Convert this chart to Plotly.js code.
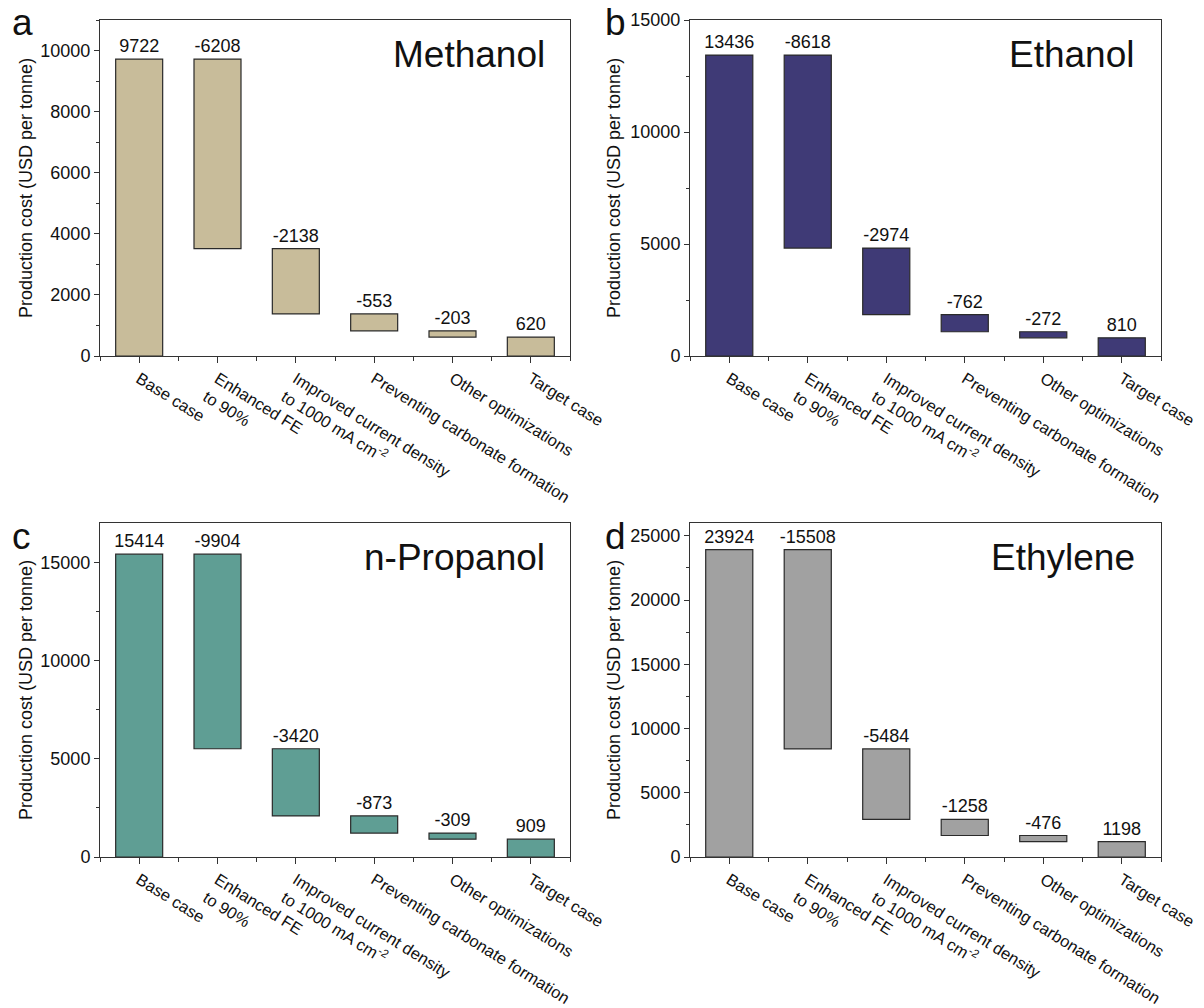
<!DOCTYPE html>
<html>
<head>
<meta charset="utf-8">
<script src="https://cdn.plot.ly/plotly-3.0.1.min.js"></script>
<style>html,body{margin:0;padding:0;background:#fff;}#chart{width:1204px;height:1008px;}</style>
</head>
<body>
<div id="chart"></div>
<script>
// ---- data ----
const categories = [
  'Base case',
  'Enhanced FE<br>to 90%',
  'Improved current density<br>to 1000 mA cm<sup>-2</sup>',
  'Preventing carbonate formation',
  'Other optimizations',
  'Target case'
];
const measures = ['absolute', 'relative', 'relative', 'relative', 'relative', 'absolute'];
const methanol = [9722, -6208, -2138, -553, -203, 620];
const ethanol = [13436, -8618, -2974, -762, -272, 810];
const propanol = [15414, -9904, -3420, -873, -309, 909];
const ethylene = [23924, -15508, -5484, -1258, -476, 1198];
const productNames = ['Methanol', 'Ethanol', 'n-Propanol', 'Ethylene'];
const panelLetters = ['a', 'b', 'c', 'd'];
const yTitle = 'Production cost (USD per tonne)';

// ---- styling ----
const FONT = 'Arial, "Liberation Sans", Helvetica, sans-serif';
const colors = ['#c8bc9a', '#3f3a76', '#5f9e94', '#a1a1a1'];
const series = [methanol, ethanol, propanol, ethylene];
const xIdx = categories.map((_, i) => i);

function floating(values) {
  let running = 0;
  const base = [], h = [];
  values.forEach((v, i) => {
    if (measures[i] === 'absolute') { base.push(0); h.push(v); running = v; }
    else { base.push(running + v); h.push(-v); running += v; }
  });
  return {base, h};
}

const traces = series.map((vals, k) => {
  const f = floating(vals);
  const ax = k === 0 ? '' : String(k + 1);
  return {
    type: 'bar',
    x: xIdx,
    y: f.h,
    base: f.base,
    width: 0.6,
    xaxis: 'x' + ax,
    yaxis: 'y' + ax,
    marker: {color: colors[k], line: {color: '#2a2a2a', width: 1.2}},
    text: vals.map(v => String(v)),
    textposition: 'outside',
    constraintext: 'none',
    cliponaxis: false,
    textfont: {family: FONT, size: 18, color: '#111'},
    hoverinfo: 'skip',
    showlegend: false
  };
});

const W = 1204, H = 1008;
const xDomains = [[100/W, 570/W], [690/W, 1161/W]];
const yDomains = [[1 - 356/H, 1 - 20/H], [1 - 857/H, 1 - 523/H]];
const yRanges = [[0, 11000], [0, 15000], [0, 17000], [0, 26000]];
const yDticks = [2000, 5000, 5000, 5000];
const yMinor = [1000, 2500, 2500, 2500];
const titleX = [26/W, 614/W];

const layout = {
  width: W, height: H,
  margin: {l: 0, r: 0, t: 0, b: 0},
  paper_bgcolor: '#fff', plot_bgcolor: '#fff',
  font: {family: FONT, size: 16, color: '#111'},
  annotations: []
};

for (let k = 0; k < 4; k++) {
  const ax = k === 0 ? '' : String(k + 1);
  const col = k % 2, row = Math.floor(k / 2);
  layout['xaxis' + ax] = {
    domain: xDomains[col],
    anchor: 'y' + ax,
    range: [-0.5, 5.5],
    tickmode: 'array', tickvals: xIdx, ticktext: categories,
    tickangle: 32,
    ticks: 'outside', ticklen: 6, tickwidth: 1, tickcolor: '#333',
    minor: {tickmode: 'linear', tick0: -0.5, dtick: 1, ticks: 'outside', ticklen: 4, tickcolor: '#333'},
    showline: true, linecolor: '#333', linewidth: 1, mirror: true,
    showgrid: false, zeroline: false, automargin: false,
    tickfont: {family: FONT, size: 16.5, color: '#111'}
  };
  layout['yaxis' + ax] = {
    domain: yDomains[row],
    anchor: 'x' + ax,
    range: yRanges[k],
    dtick: yDticks[k], tick0: 0, tickformat: 'd',
    ticks: 'outside', ticklen: 5, tickwidth: 1, tickcolor: '#333',
    minor: {dtick: yMinor[k], ticks: 'outside', ticklen: 3, tickcolor: '#333'},
    showline: true, linecolor: '#333', linewidth: 1, mirror: true,
    showgrid: false, zeroline: false, automargin: false,
    tickfont: {family: FONT, size: 18, color: '#111'}
  };
  // y-axis title (placed as annotation for exact position)
  layout.annotations.push({
    text: yTitle, xref: 'paper', yref: 'y' + ax + ' domain',
    x: titleX[col], y: 0.5, xanchor: 'center', yanchor: 'middle', textangle: -90,
    showarrow: false, font: {family: FONT, size: 18, color: '#111'}
  });
  layout.annotations.push({
    text: productNames[k], xref: 'x' + ax + ' domain', yref: 'y' + ax + ' domain',
    x: 0.95, y: 0.965, xanchor: 'right', yanchor: 'top', showarrow: false,
    font: {family: FONT, size: 37, color: '#111'}
  });
  layout.annotations.push({
    text: panelLetters[k], xref: 'paper', yref: 'paper',
    x: col === 0 ? 10/W : 603/W,
    y: row === 0 ? 1 : 1 - 514/H,
    xanchor: 'left', yanchor: 'top', showarrow: false,
    font: {family: FONT, size: 37, color: '#111'}
  });
}

Plotly.newPlot('chart', traces, layout, {staticPlot: true, displayModeBar: false});
</script>
</body>
</html>
